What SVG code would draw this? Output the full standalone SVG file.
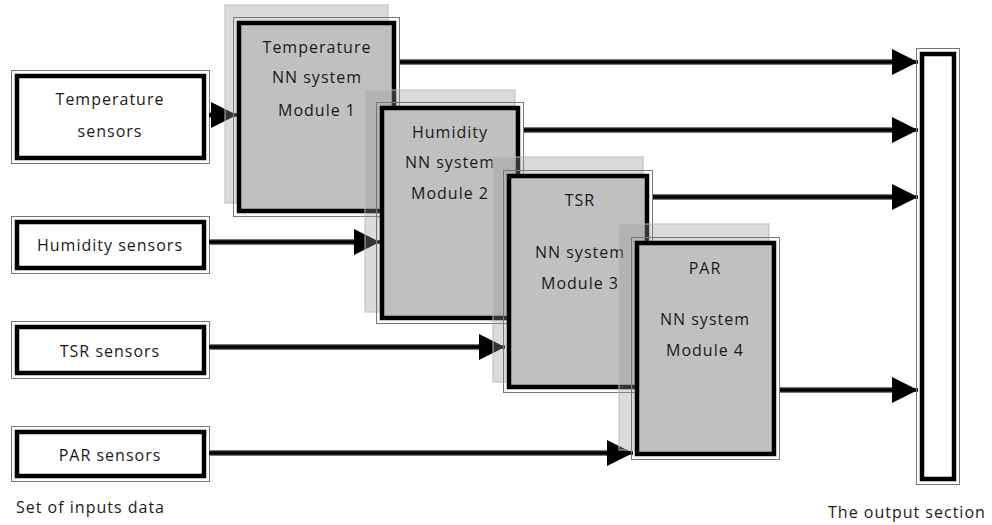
<svg xmlns="http://www.w3.org/2000/svg" width="992" height="525" viewBox="0 0 992 525">
<style>
text{font-family:"Open Sans","Noto Sans",sans-serif;font-size:16px;letter-spacing:1px;fill:#1a1a1a;text-anchor:middle}
.lbl{text-anchor:start}
.og{fill:none;stroke:#777;stroke-width:1}
.ib{fill:#fff;stroke:#000;stroke-width:4.5}
.mb{fill:#c0c0c0;stroke:#000;stroke-width:4.5}
.sh{fill:#999;fill-opacity:0.35;stroke:#bbb;stroke-opacity:0.5;stroke-width:2}
.lg{stroke:#777;stroke-width:6;fill:none}
.lk{stroke:#000;stroke-width:3.5;fill:none}
</style>
<defs>
<marker id="ah" markerUnits="userSpaceOnUse" markerWidth="28" markerHeight="28" refX="26" refY="13" orient="auto">
<path d="M0,0 L26,13 L0,26 z" fill="#000"/>
</marker>
</defs>

<g id="temp-sensors">
<rect class="og" x="11.5" y="70.5" width="198" height="93"/>
<rect class="ib" x="17" y="76" width="187" height="82"/>
<text x="110" y="105">Temperature</text>
<text x="110" y="137">sensors</text>
</g>
<g id="hum-sensors">
<rect class="og" x="11.5" y="216.5" width="198" height="57"/>
<rect class="ib" x="17" y="222" width="187" height="46"/>
<text x="110" y="251">Humidity sensors</text>
</g>
<g id="tsr-sensors">
<rect class="og" x="11.5" y="321.5" width="198" height="57"/>
<rect class="ib" x="17" y="327" width="187" height="46"/>
<text x="110" y="357">TSR sensors</text>
</g>
<g id="par-sensors">
<rect class="og" x="11.5" y="426.5" width="198" height="55"/>
<rect class="ib" x="17" y="432" width="187" height="44"/>
<text x="110" y="461">PAR sensors</text>
</g>
<text class="lbl" x="16" y="513">Set of inputs data</text>

<g id="connectors">
<line class="lg" x1="209" y1="115" x2="212" y2="115"/>
<line class="lk" x1="209" y1="115" x2="237" y2="115" marker-end="url(#ah)"/>
<line class="lg" x1="209" y1="242" x2="356" y2="242"/>
<line class="lk" x1="209" y1="242" x2="380" y2="242" marker-end="url(#ah)"/>
<line class="lg" x1="209" y1="347" x2="481" y2="347"/>
<line class="lk" x1="209" y1="347" x2="505" y2="347" marker-end="url(#ah)"/>
<line class="lg" x1="209" y1="453" x2="609" y2="453"/>
<line class="lk" x1="209" y1="453" x2="633" y2="453" marker-end="url(#ah)"/>
<line class="lg" x1="400" y1="62" x2="894" y2="62"/>
<line class="lk" x1="400" y1="62" x2="918" y2="62" marker-end="url(#ah)"/>
<line class="lg" x1="524" y1="130" x2="894" y2="130"/>
<line class="lk" x1="524" y1="130" x2="918" y2="130" marker-end="url(#ah)"/>
<line class="lg" x1="653" y1="197" x2="894" y2="197"/>
<line class="lk" x1="653" y1="197" x2="918" y2="197" marker-end="url(#ah)"/>
<line class="lg" x1="780" y1="390" x2="894" y2="390"/>
<line class="lk" x1="780" y1="390" x2="918" y2="390" marker-end="url(#ah)"/>
</g>

<g id="module1">
<rect class="sh" x="225" y="5" width="163" height="198"/>
<rect class="og" x="233.5" y="17.5" width="166" height="199"/>
<rect class="mb" x="239" y="23" width="155" height="188"/>
<text x="317" y="53">Temperature</text>
<text x="317" y="83">NN system</text>
<text x="317" y="116">Module 1</text>
</g>
<g id="module2">
<rect class="sh" x="365" y="90" width="150" height="222"/>
<rect class="og" x="376.5" y="102.5" width="147" height="221"/>
<rect class="mb" x="382" y="108" width="136" height="210"/>
<text x="450" y="138">Humidity</text>
<text x="450" y="168">NN system</text>
<text x="450" y="199">Module 2</text>
</g>
<g id="module3">
<rect class="sh" x="493" y="157" width="150" height="225"/>
<rect class="og" x="503.5" y="170.5" width="149" height="222"/>
<rect class="mb" x="509" y="176" width="138" height="211"/>
<text x="580" y="206">TSR</text>
<text x="580" y="258">NN system</text>
<text x="580" y="289">Module 3</text>
</g>
<g id="module4">
<rect class="sh" x="619" y="224" width="150" height="226"/>
<rect class="og" x="631.5" y="237.5" width="148" height="222"/>
<rect class="mb" x="637" y="243" width="137" height="211"/>
<text x="705" y="274">PAR</text>
<text x="705" y="325">NN system</text>
<text x="705" y="356">Module 4</text>
</g>

<g id="output">
<rect class="og" x="916.5" y="48.5" width="43" height="436"/>
<rect class="ib" x="922" y="54" width="32" height="425"/>
</g>
<text class="lbl" x="828" y="518">The output section</text>
</svg>
